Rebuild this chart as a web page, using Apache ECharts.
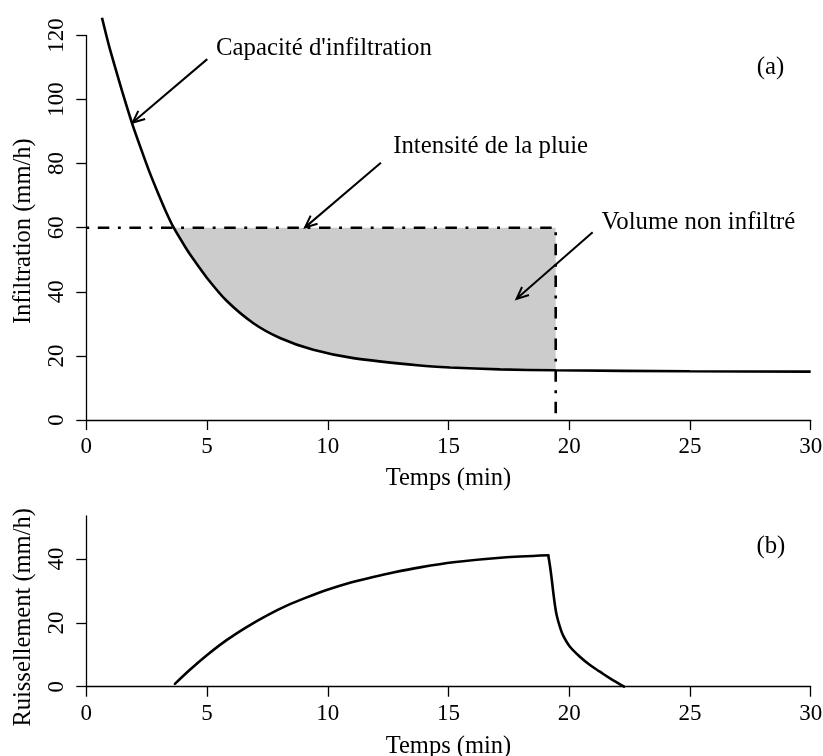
<!DOCTYPE html>
<html><head><meta charset="utf-8">
<script src="https://cdn.jsdelivr.net/npm/echarts@6/dist/echarts.min.js"></script>
<style>html,body{margin:0;padding:0;background:#fff}#c{width:823px;height:756px}</style>
</head><body><div id="c"></div>
<script>
// ---- data ----
const timeTicks = [0, 5, 10, 15, 20, 25, 30];
const infilTicks = [0, 20, 40, 60, 80, 100, 120];
const runoffTicks = [0, 20, 40];

// (a) infiltration capacity curve
const capT = [0.65, 0.95, 1.37, 1.64, 1.92, 2.27, 2.61, 2.96, 3.30, 3.62, 4.13, 4.43, 4.99, 5.81, 6.92, 8.02, 9.40, 11.06, 13.82, 15.06, 17.13, 19.44, 25, 30];
const capV = [125.5, 116.5, 105.5, 98.7, 92.0, 84.5, 77.5, 71.0, 65.0, 60.0, 53.6, 50.2, 44.4, 37.2, 30.2, 25.6, 21.9, 19.3, 17.0, 16.4, 15.8, 15.5, 15.2, 15.1];

// (a) rain intensity (dash-dot)
const rainT = [0, 19.44, 19.44];
const rainV = [60, 60, 0];
const rainLevel = 60;
const shadeStart = 3.62;
const shadeEnd = 19.44;

// (b) runoff
const runRiseT = [3.67, 4.29, 4.98, 5.81, 6.64, 7.47, 8.30, 9.13, 9.95, 10.92, 11.88, 12.71, 13.82, 15.2, 17.27, 19.13];
const runRiseV = [0.9, 5.3, 9.8, 14.6, 18.7, 22.3, 25.4, 28.0, 30.3, 32.6, 34.4, 35.8, 37.4, 39.0, 40.5, 41.2];
const runFallT = [19.13, 19.2, 19.27, 19.34, 19.41, 19.48, 19.62, 19.75, 20.03, 20.44, 20.86, 21.27, 21.69, 22.27];
const runFallV = [41.2, 38.0, 34.0, 29.5, 25.5, 22.4, 18.6, 16.0, 12.5, 9.4, 6.8, 4.7, 2.6, 0];

// annotations, panel (a)
const noteTextA = ["Capacité d'infiltration", "Intensité de la pluie", "Volume non infiltré", "(a)"];
const noteAlignA = ["left", "left", "left", "center"];
const noteTA = [5.37, 12.71, 21.34, 28.34];
const noteVA = [115.9, 85.2, 61.5, 110.0];
const arrowFromT = [5.01, 12.20, 20.97];
const arrowFromV = [112.6, 80.3, 58.6];
const arrowToT = [1.92, 9.06, 17.82];
const arrowToV = [92.8, 60.1, 37.8];
// panel (b)
const noteTextB = ["(b)"];
const noteAlignB = ["center"];
const noteTB = [28.35];
const noteVB = [44.0];

const axisTitleX = "Temps (min)";
const axisTitleYA = "Infiltration (mm/h)";
const axisTitleYB = "Ruissellement (mm/h)";

// ---- chart ----
const FONT = "Liberation Serif";
const pairs = (a, b) => a.map((t, i) => [t, b[i]]);

// shaded polygon: rain level on top, capacity curve below
const shadeIdx = capT.map((t, i) => i).filter(i => capT[i] >= shadeStart && capT[i] <= shadeEnd);
const shadePoly = [[shadeStart, rainLevel], [shadeEnd, rainLevel]].concat(shadeIdx.slice().reverse().map(i => [capT[i], capV[i]]));

const axisLine = { show: true, lineStyle: { color: '#000', width: 1.3 } };
const axisTick = { show: true, length: 10, lineStyle: { color: '#000', width: 1.3 } };
const tickFont = { color: '#000', fontSize: 23, fontFamily: FONT };
const titleFont = { color: '#000', fontSize: 24.5, fontFamily: FONT };

function xAxisDef(gridIndex, labelMargin, nameGap) {
  return {
    type: 'value', gridIndex, min: 0, max: 30, interval: 5,
    axisLine, axisTick: Object.assign({ customValues: timeTicks }, axisTick),
    axisLabel: Object.assign({ margin: labelMargin, customValues: timeTicks }, tickFont),
    splitLine: { show: false },
    name: axisTitleX, nameLocation: 'middle', nameGap, nameTextStyle: titleFont
  };
}

function textSeries(idx, texts, ts, vs, aligns) {
  return {
    type: 'custom', xAxisIndex: idx, yAxisIndex: idx, clip: false, z: 6, silent: true,
    data: ts.map((t, i) => [t, vs[i]]),
    renderItem: (params, api) => {
      const i = params.dataIndex;
      const p = api.coord([api.value(0), api.value(1)]);
      return { type: 'text', x: p[0], y: p[1],
        style: { text: texts[i], fill: '#000', fontSize: 24.8, fontFamily: FONT, align: aligns[i], verticalAlign: 'middle' } };
    }
  };
}

function arrowSeries(idx, fT, fV, tT, tV) {
  return {
    type: 'custom', xAxisIndex: idx, yAxisIndex: idx, clip: false, z: 6, silent: true,
    data: fT.map((_, i) => [fT[i], fV[i], tT[i], tV[i]]),
    renderItem: (params, api) => {
      const p1 = api.coord([api.value(0), api.value(1)]);
      const p2 = api.coord([api.value(2), api.value(3)]);
      const a = Math.atan2(p1[1] - p2[1], p1[0] - p2[0]);
      const L = 13, h = 0.42;
      const h1 = [p2[0] + L * Math.cos(a + h), p2[1] + L * Math.sin(a + h)];
      const h2 = [p2[0] + L * Math.cos(a - h), p2[1] + L * Math.sin(a - h)];
      return { type: 'group', children: [
        { type: 'line', shape: { x1: p1[0], y1: p1[1], x2: p2[0], y2: p2[1] }, style: { stroke: '#000', lineWidth: 2 } },
        { type: 'polyline', shape: { points: [h1, p2, h2] }, style: { stroke: '#000', lineWidth: 2, fill: null } }
      ] };
    }
  };
}

const chart = echarts.init(document.getElementById('c'), null, { renderer: 'canvas' });
chart.setOption({
  animation: false,
  backgroundColor: '#fff',
  textStyle: { fontFamily: FONT },
  grid: [
    { left: 86.3, right: 12.3, top: 35.4, height: 384.6, containLabel: false, outerBoundsMode: 'none' },
    { left: 86.3, right: 12.3, top: 516, height: 170.7, containLabel: false, outerBoundsMode: 'none' }
  ],
  xAxis: [xAxisDef(0, 15, 46), xAxisDef(1, 16, 47)],
  yAxis: [
    { type: 'value', gridIndex: 0, min: 0, max: 120, interval: 20,
      axisLine, axisTick: Object.assign({ customValues: infilTicks }, axisTick),
      axisLabel: Object.assign({ rotate: 90, margin: 18, customValues: infilTicks }, tickFont),
      splitLine: { show: false },
      name: axisTitleYA, nameLocation: 'middle', nameGap: 50,
      nameTextStyle: Object.assign({ padding: [0, 7, 0, 0] }, titleFont) },
    { type: 'value', gridIndex: 1, min: 0, max: 53.5,
      axisLine, axisTick: Object.assign({ customValues: runoffTicks }, axisTick),
      axisLabel: Object.assign({ rotate: 90, margin: 18, customValues: runoffTicks }, tickFont),
      splitLine: { show: false },
      name: axisTitleYB, nameLocation: 'middle', nameGap: 50,
      nameTextStyle: Object.assign({ padding: [0, 32, 0, 0] }, titleFont) }
  ],
  series: [
    { type: 'custom', name: 'shade', xAxisIndex: 0, yAxisIndex: 0, z: 1, silent: true,
      data: [0],
      renderItem: (params, api) => ({
        type: 'polygon',
        shape: { points: shadePoly.map(p => api.coord(p)) },
        style: { fill: '#cccccc', stroke: null }
      }) },
    { type: 'line', name: 'capacity', xAxisIndex: 0, yAxisIndex: 0, data: pairs(capT, capV),
      smooth: 0.25, symbol: 'none', clip: false,
      lineStyle: { color: '#000', width: 2.6 }, z: 3 },
    { type: 'line', name: 'rain', xAxisIndex: 0, yAxisIndex: 0, data: pairs(rainT, rainV),
      symbol: 'none', clip: false,
      lineStyle: { color: '#000', width: 2.6, type: [2.9, 8.6, 11.5, 8.6], cap: 'butt' }, z: 4 },
    arrowSeries(0, arrowFromT, arrowFromV, arrowToT, arrowToV),
    textSeries(0, noteTextA, noteTA, noteVA, noteAlignA),
    { type: 'line', name: 'runoffRise', xAxisIndex: 1, yAxisIndex: 1, data: pairs(runRiseT, runRiseV),
      smooth: 0.25, symbol: 'none', clip: false,
      lineStyle: { color: '#000', width: 2.6, cap: 'round' }, z: 3 },
    { type: 'line', name: 'runoffFall', xAxisIndex: 1, yAxisIndex: 1, data: pairs(runFallT, runFallV),
      smooth: 0.35, symbol: 'none', clip: false,
      lineStyle: { color: '#000', width: 2.6, cap: 'round' }, z: 3 },
    textSeries(1, noteTextB, noteTB, noteVB, noteAlignB)
  ]
});
</script></body></html>
